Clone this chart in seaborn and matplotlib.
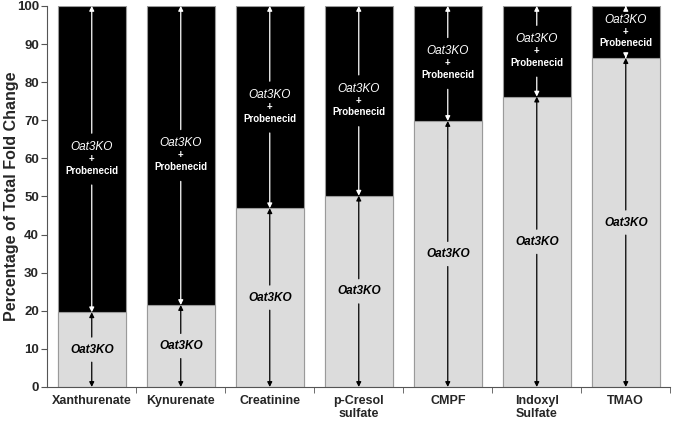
import matplotlib
matplotlib.use("Agg")
import matplotlib.pyplot as plt
import seaborn as sns
import pandas as pd

# values
compounds = ["Xanthurenate", "Kynurenate", "Creatinine", "p-Cresol\nsulfate",
             "CMPF", "Indoxyl\nSulfate", "TMAO"]
oat3ko_pct = [19.6, 21.5, 46.9, 50.2, 69.8, 76.2, 86.3]
total_pct = [100, 100, 100, 100, 100, 100, 100]

df = pd.DataFrame({"compound": compounds, "oat3ko": oat3ko_pct, "total": total_pct})

sns.set_style("ticks")
plt.rcParams['font.family'] = ['Liberation Sans', 'DejaVu Sans']

fig = plt.figure(figsize=(6.75, 4.22), dpi=100)
ax = fig.add_axes([0.07, 0.083, 0.923, 0.903])

# black = Oat3KO + Probenecid (stacked on top), grey = Oat3KO
sns.barplot(data=df, x="compound", y="total", color="black", saturation=1,
            width=0.76, edgecolor="#9a9a9a", linewidth=0.8, ax=ax)
sns.barplot(data=df, x="compound", y="oat3ko", color="#dcdcdc", saturation=1,
            width=0.76, edgecolor="#9a9a9a", linewidth=0.8, ax=ax)


def seg_label(x, lo, hi, color, gap, text_fn):
    mid = (lo + hi) / 2
    text_fn(x, mid)
    arrow = dict(arrowstyle="-|>", color=color, lw=0.9, mutation_scale=7,
                 shrinkA=0, shrinkB=0)
    if hi - mid > gap + 1:
        ax.annotate("", xy=(x, hi), xytext=(x, mid + gap), arrowprops=arrow)
        ax.annotate("", xy=(x, lo), xytext=(x, mid - gap), arrowprops=arrow)
    else:
        ax.annotate("", xy=(x, hi), xytext=(x, hi - 0.5), arrowprops=arrow)
        ax.annotate("", xy=(x, lo), xytext=(x, lo + 0.5), arrowprops=arrow)


def grey_text(x, y):
    ax.text(x, y, "Oat3KO", ha="center", va="center", fontsize=8.5,
            style="italic", fontweight="bold", color="black")


def black_text(x, y):
    ax.text(x, y + 3.2, "Oat3KO", ha="center", va="center", fontsize=8.5,
            style="italic", color="white")
    ax.text(x, y, "+", ha="center", va="center", fontsize=7,
            fontweight="bold", color="white")
    ax.text(x, y - 3.0, "Probenecid", ha="center", va="center", fontsize=7,
            fontweight="bold", color="white")


for i, v in enumerate(oat3ko_pct):
    seg_label(i, 0, v, "black", 3.3, grey_text)
    seg_label(i, v, 100, "white", 6.8, black_text)

ax.set_ylim(0, 100)
ax.set_xlim(-0.5, len(compounds) - 0.5)
ax.set_yticks(range(0, 101, 10))
ax.set_xlabel("")
ax.set_ylabel("Percentage of Total Fold Change", fontsize=11.5, fontweight="bold")
ax.yaxis.set_label_coords(-0.045, 0.5)
ax.set_xticks(range(len(compounds)))
ax.set_xticklabels(compounds, fontsize=9, fontweight="bold", linespacing=1.05)
ax.set_xticks([i + 0.5 for i in range(len(compounds))], minor=True)
ax.tick_params(axis="x", which="major", length=0, pad=6)
ax.tick_params(axis="x", which="minor", length=4, color="#555555")
ax.tick_params(axis="y", labelsize=9.5, length=4, pad=2, color="#555555")
for lab in ax.get_yticklabels():
    lab.set_fontweight("bold")
for s in ["top", "right"]:
    ax.spines[s].set_visible(False)
for s in ["left", "bottom"]:
    ax.spines[s].set_color("#555555")

fig.savefig("out.png", dpi=100)
